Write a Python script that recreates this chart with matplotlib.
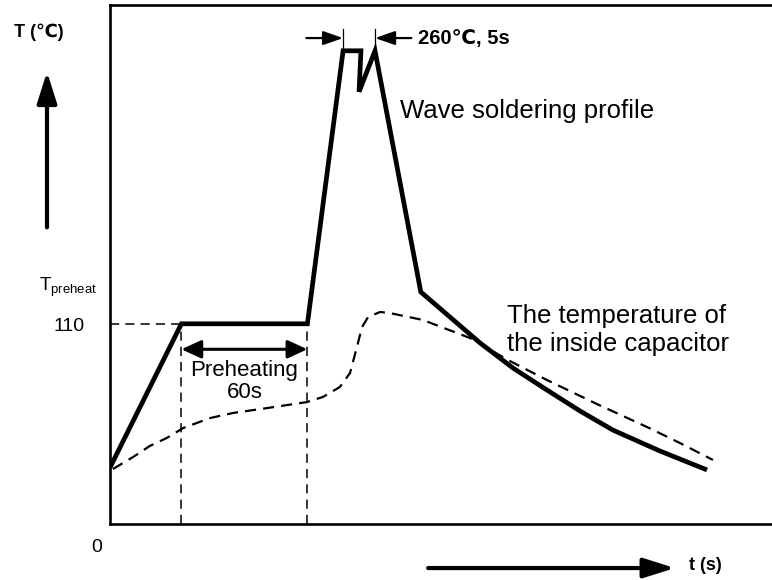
"""
Wave soldering temperature profile vs. temperature inside the capacitor.
Schematic chart, saved as out.png.
"""

import matplotlib

matplotlib.use("Agg")
import matplotlib.pyplot as plt

plt.rcParams["font.family"] = ["Liberation Sans", "DejaVu Sans"]
plt.rcParams["mathtext.fontset"] = "custom"
plt.rcParams["mathtext.rm"] = "Liberation Sans"

# --------- Data (time in s, temperature in degC) ---------

profile_t = [0, 34, 94, 111, 119.5, 118.6, 126.2, 148, 162.4, 176.2, 191.9,
             208.1, 223.8, 239.5, 261.9, 284.3]
profile_T = [31, 110, 110, 260, 260, 237.5, 260, 127.5, 113.2, 99.5, 85.7,
             73.6, 62.1, 51.6, 40.1, 29.7]

capacitor_t = [1.4, 11.0, 19.0, 27.1, 34.8, 47.6, 58.6, 74.8, 93.8, 101.4, 109.5,
               114.3, 117.6, 120.0, 122.9, 128.6, 133.3, 149.0, 171.4, 189.5,
               208.1, 231.9, 255.7, 271.4, 287.1]
capacitor_T = [30.2, 36.8, 42.9, 47.3, 52.7, 58.2, 61.0, 63.7, 67.0, 69.8, 75.3,
               83.0, 97.3, 108.2, 113.7, 116.5, 115.9, 112.1, 102.2, 90.1,
               79.1, 65.9, 53.3, 44.5, 35.2]

preheat_T = 110
preheat_start = 34
preheat_end = 94
peak_T = 260
peak_start = 111
peak_end = 126.2

# --------- Figure ---------

fig = plt.figure(figsize=(7.72, 5.8), dpi=100)
ax = fig.add_axes([110 / 772, 56 / 580, 662 / 772, 519 / 580])
ax.set_xlim(0, 662 / 2.1)
ax.set_ylim(0, 519 / 1.82)
ax.set_xticks([])
ax.set_yticks([])
ax.spines["right"].set_visible(False)
for s in ("left", "top", "bottom"):
    ax.spines[s].set_linewidth(1.9)

# main curves
ax.plot(profile_t, profile_T, color="black", lw=3.4, solid_joinstyle="miter",
        solid_capstyle="butt")
ax.plot(capacitor_t, capacitor_T, color="black", lw=1.6, dashes=(5, 3.2))

# preheat guides
ax.plot([0, preheat_start], [preheat_T, preheat_T], color="black", lw=1.1,
        dashes=(6, 4))
for t in (preheat_start, preheat_end):
    ax.plot([t, t], [0, preheat_T], color="black", lw=1.1, dashes=(6, 4))

ax.annotate("", xy=(preheat_start, 96), xytext=(preheat_end, 96),
            arrowprops=dict(arrowstyle="<|-|>,head_length=1.2,head_width=0.55",
                            mutation_scale=10, color="black", lw=2.2,
                            shrinkA=0, shrinkB=0))
ax.text((preheat_start + preheat_end) / 2, 78.5, "Preheating\n60s", ha="center",
        va="center", fontsize=16, linespacing=1.05)

# peak annotation
for t in (peak_start, peak_end):
    ax.plot([t, t], [peak_T, 272], color="black", lw=0.9, clip_on=False)
ax.annotate("", xy=(peak_start, 267), xytext=(93.5, 267),
            arrowprops=dict(arrowstyle="-|>,head_length=1.2,head_width=0.42",
                            mutation_scale=10, color="black", lw=1.6,
                            shrinkA=0, shrinkB=0))
ax.annotate("", xy=(peak_end, 267), xytext=(143.5, 267),
            arrowprops=dict(arrowstyle="-|>,head_length=1.2,head_width=0.42",
                            mutation_scale=10, color="black", lw=1.6,
                            shrinkA=0, shrinkB=0))
ax.text(146.5, 267, "260℃, 5s", ha="left", va="center", fontsize=14.5,
        fontweight="bold")

ax.text(138, 227, "Wave soldering profile", ha="left", va="center", fontsize=18.5)
ax.text(189, 106.6, "The temperature of\nthe inside capacitor", ha="left",
        va="center", fontsize=18.5, linespacing=1.17)

# axis labels outside the box
ax.text(-34, 270, "T (℃)", ha="center", va="center", fontsize=13,
        fontweight="bold", clip_on=False)
ax.annotate("", xy=(-30, 248.5), xytext=(-30, 163),
            arrowprops=dict(arrowstyle="-|>,head_length=1.9,head_width=0.6",
                            mutation_scale=10, color="black", lw=3,
                            shrinkA=0, shrinkB=0),
            annotation_clip=False)
ax.text(-20, 130, r"T$_{\mathrm{preheat}}$", ha="center", va="center",
        fontsize=13.5, clip_on=False)
ax.text(-19.5, 108.5, "110", ha="center", va="center", fontsize=14,
        clip_on=False)
ax.text(-6.2, -13, "0", ha="center", va="center", fontsize=14, clip_on=False)

ax.annotate("", xy=(269, -24.2), xytext=(151.5, -24.2),
            arrowprops=dict(arrowstyle="-|>,head_length=1.9,head_width=0.6",
                            mutation_scale=10, color="black", lw=3,
                            shrinkA=0, shrinkB=0),
            annotation_clip=False)
ax.text(275.5, -23, "t (s)", ha="left", va="center", fontsize=13,
        fontweight="bold", clip_on=False)

fig.savefig("out.png", dpi=100)
